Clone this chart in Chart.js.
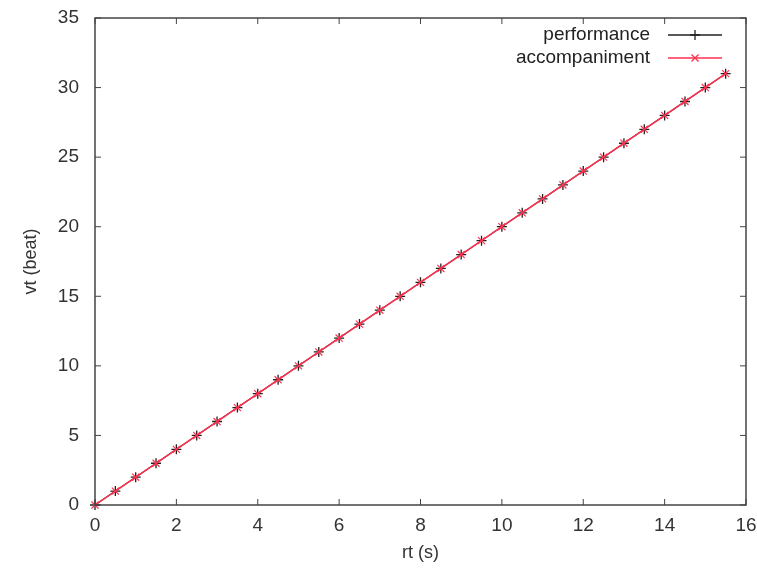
<!DOCTYPE html>
<html>
<head>
<meta charset="utf-8">
<script src="https://cdn.jsdelivr.net/npm/chart.js@4"></script>
<style>
  html, body { margin: 0; padding: 0; background: #fff; }
  #wrap { width: 757px; height: 573px; }
</style>
</head>
<body>
<div id="wrap"><canvas id="myChart" width="757" height="573"></canvas></div>
<script>
// rt (s) samples and vt (beat) values
const rtPerf = [0, 0.5, 1, 1.5, 2, 2.5, 3, 3.5, 4, 4.5, 5, 5.5, 6, 6.5, 7, 7.5, 8, 8.5, 9, 9.5, 10, 10.5, 11, 11.5, 12, 12.5, 13, 13.5, 14, 14.5, 15, 15.5];
const vtPerf = [0, 1, 2, 3, 4, 5, 6, 7, 8, 9, 10, 11, 12, 13, 14, 15, 16, 17, 18, 19, 20, 21, 22, 23, 24, 25, 26, 27, 28, 29, 30, 31];
const rtAcc = [0, 0.5, 1, 1.5, 2, 2.5, 3, 3.5, 4, 4.5, 5, 5.5, 6, 6.5, 7, 7.5, 8, 8.5, 9, 9.5, 10, 10.5, 11, 11.5, 12, 12.5, 13, 13.5, 14, 14.5, 15, 15.5];
const vtAcc = [0, 1, 2, 3, 4, 5, 6, 7, 8, 9, 10, 11, 12, 13, 14, 15, 16, 17, 18, 19, 20, 21, 22, 23, 24, 25, 26, 27, 28, 29, 30, 31];
const xTicks = [0, 2, 4, 6, 8, 10, 12, 14, 16];
const yTicks = [0, 5, 10, 15, 20, 25, 30, 35];

const FONT = "'Liberation Sans', Arial, sans-serif";
const RED = '#ff3050';
const BLACK = '#222';

const toPoints = (xs, ys) => xs.map((x, i) => ({ x: x, y: ys[i] }));

// gnuplot style frame, inward ticks on all sides, and the key
const gnuFrame = {
  id: 'gnuFrame',
  afterDatasetsDraw(chart) {
    const { ctx, chartArea: a, scales } = chart;
    ctx.save();
    ctx.strokeStyle = '#444';
    ctx.lineWidth = 1.5;
    ctx.strokeRect(a.left, a.top, a.right - a.left, a.bottom - a.top);
    ctx.lineWidth = 1;
    const t = 6;
    ctx.beginPath();
    scales.x.ticks.forEach(tk => {
      const px = scales.x.getPixelForValue(tk.value);
      ctx.moveTo(px, a.bottom); ctx.lineTo(px, a.bottom - t);
      ctx.moveTo(px, a.top); ctx.lineTo(px, a.top + t);
    });
    scales.y.ticks.forEach(tk => {
      const py = scales.y.getPixelForValue(tk.value);
      ctx.moveTo(a.left, py); ctx.lineTo(a.left + t, py);
      ctx.moveTo(a.right, py); ctx.lineTo(a.right - t, py);
    });
    ctx.stroke();

    // key
    const items = [
      { label: 'performance', color: BLACK, style: 'cross' },
      { label: 'accompaniment', color: RED, style: 'crossRot' }
    ];
    ctx.font = '19px ' + FONT;
    ctx.textAlign = 'right';
    ctx.textBaseline = 'middle';
    items.forEach((it, i) => {
      const y = a.top + 17 + i * 23;
      const x1 = a.right - 78, x2 = a.right - 24;
      ctx.fillStyle = '#222';
      ctx.fillText(it.label, x1 - 18, y);
      ctx.strokeStyle = it.color;
      ctx.lineWidth = 1.3;
      ctx.beginPath(); ctx.moveTo(x1, y); ctx.lineTo(x2, y); ctx.stroke();
      Chart.helpers.drawPoint(ctx, { pointStyle: it.style, radius: 5, borderWidth: 1.2 }, (x1 + x2) / 2, y);
    });
    ctx.restore();
  }
};

new Chart(document.getElementById('myChart').getContext('2d'), {
  type: 'scatter',
  data: {
    datasets: [{
      label: 'performance',
      data: toPoints(rtPerf, vtPerf),
      order: 2,
      clip: false,
      showLine: true,
      borderColor: BLACK,
      backgroundColor: BLACK,
      borderWidth: 1.2,
      pointStyle: 'cross',
      pointRadius: 5,
      pointBorderWidth: 1.3
    }, {
      label: 'accompaniment',
      data: toPoints(rtAcc, vtAcc),
      order: 1,
      clip: false,
      showLine: true,
      borderColor: RED,
      backgroundColor: RED,
      borderWidth: 1.5,
      pointStyle: 'crossRot',
      pointRadius: 5,
      pointBorderWidth: 1.2
    }]
  },
  options: {
    responsive: false,
    animation: false,
    layout: { padding: { top: 18, right: 11, left: 0, bottom: 0 } },
    plugins: {
      legend: { display: false },
      tooltip: { enabled: false }
    },
    scales: {
      x: {
        type: 'linear',
        min: 0, max: 16,
        afterBuildTicks: s => { s.ticks = xTicks.map(v => ({ value: v })); },
        grid: { display: false, drawTicks: false },
        border: { display: false },
        ticks: { color: '#333', font: { family: FONT, size: 19 }, padding: 9, maxRotation: 0 },
        title: { display: true, text: 'rt (s)', color: '#333', font: { family: FONT, size: 18 }, padding: { top: 4, bottom: 9 } },
        afterFit: s => { s.height = 68; s.paddingLeft = 0; s.paddingRight = 0; }
      },
      y: {
        type: 'linear',
        min: 0, max: 35,
        afterBuildTicks: s => { s.ticks = yTicks.map(v => ({ value: v })); },
        grid: { display: false, drawTicks: false },
        border: { display: false },
        ticks: { color: '#333', font: { family: FONT, size: 19 }, padding: 16 },
        title: { display: true, text: 'vt (beat)', color: '#333', font: { family: FONT, size: 18 }, padding: { top: 20, bottom: 4 } },
        afterFit: s => { s.width = 95; s.paddingTop = 0; s.paddingBottom = 0; }
      }
    }
  },
  plugins: [gnuFrame]
});
</script>
</body>
</html>
